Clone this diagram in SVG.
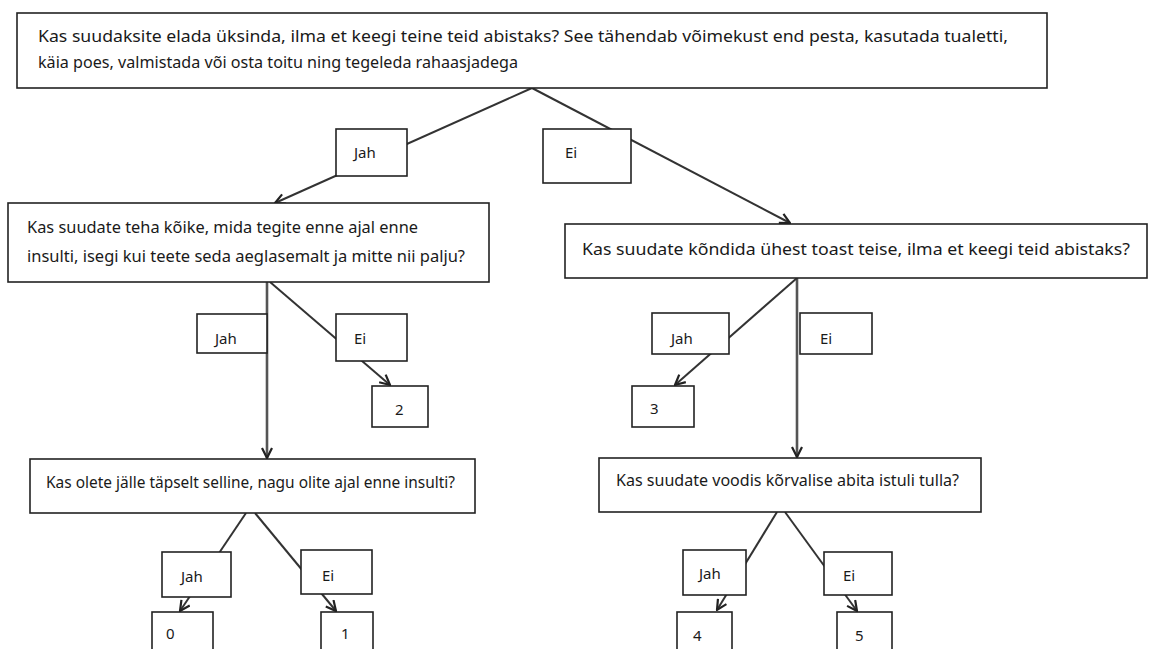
<svg xmlns="http://www.w3.org/2000/svg" width="1154" height="649" viewBox="0 0 1154 649">
  <style>
    .box { fill: #ffffff; stroke: #222222; stroke-width: 1.6; }
    .q { font-family: "Noto Sans", "Open Sans", sans-serif; font-size: 16px; fill: #1a1a1a; }
    .lbl { font-family: "Noto Sans", "Open Sans", sans-serif; font-size: 15px; fill: #1a1a1a; }
    .edge { fill: none; stroke: #333333; stroke-width: 2; marker-end: url(#arrow); }
    .stem { fill: none; stroke: #555555; stroke-width: 2.6; marker-end: url(#arrow); }
  </style>
  <defs>
    <marker id="arrow" viewBox="0 0 12 12" refX="11" refY="6" markerWidth="12" markerHeight="12" markerUnits="userSpaceOnUse" orient="auto">
      <path d="M1,1 L11,6 L1,11" fill="none" stroke="#222222" stroke-width="2.2"/>
    </marker>
  </defs>

  <rect x="0" y="0" width="1154" height="649" fill="#ffffff"/>

  <!-- connectors (drawn first so the label boxes sit on top of them) -->
  <g id="connectors">
    <path class="edge" d="M532,88 L275,203"/>
    <path class="edge" d="M532,88 L790,223"/>
    <path class="stem" d="M267,282 L267,458"/>
    <path class="edge" d="M270,282 L390,385"/>
    <path class="stem" d="M797,278 L797,457"/>
    <path class="edge" d="M797,278 L675,385"/>
    <path class="edge" d="M246,513 L180,611"/>
    <path class="edge" d="M255,513 L336,611"/>
    <path class="edge" d="M777,512 L717,610"/>
    <path class="edge" d="M785,512 L857,611"/>
  </g>

  <!-- question nodes -->
  <g id="q1">
    <rect class="box" x="17" y="13" width="1030" height="75"/>
    <text class="q" x="38" y="42" textLength="970" lengthAdjust="spacingAndGlyphs">Kas suudaksite elada üksinda, ilma et keegi teine teid abistaks? See tähendab võimekust end pesta, kasutada tualetti,</text>
    <text class="q" x="38" y="68" textLength="480" lengthAdjust="spacingAndGlyphs">käia poes, valmistada või osta toitu ning tegeleda rahaasjadega</text>
  </g>
  <g id="q2">
    <rect class="box" x="8" y="203" width="481" height="79"/>
    <text class="q" x="27" y="233" textLength="391" lengthAdjust="spacingAndGlyphs">Kas suudate teha kõike, mida tegite enne ajal enne</text>
    <text class="q" x="27" y="262" textLength="438" lengthAdjust="spacingAndGlyphs">insulti, isegi kui teete seda aeglasemalt ja mitte nii palju?</text>
  </g>
  <g id="q3">
    <rect class="box" x="565" y="224" width="582" height="54"/>
    <text class="q" x="582" y="255" textLength="548" lengthAdjust="spacingAndGlyphs">Kas suudate kõndida ühest toast teise, ilma et keegi teid abistaks?</text>
  </g>
  <g id="q4">
    <rect class="box" x="30" y="459" width="445" height="54"/>
    <text class="q" x="46" y="488" textLength="409" lengthAdjust="spacingAndGlyphs">Kas olete jälle täpselt selline, nagu olite ajal enne insulti?</text>
  </g>
  <g id="q5">
    <rect class="box" x="599" y="458" width="382" height="54"/>
    <text class="q" x="616" y="486" textLength="343" lengthAdjust="spacingAndGlyphs">Kas suudate voodis kõrvalise abita istuli tulla?</text>
  </g>

  <!-- answer labels -->
  <g id="jah1"><rect class="box" x="336" y="129" width="71" height="47"/><text class="lbl" x="354" y="158">Jah</text></g>
  <g id="ei1"><rect class="box" x="543" y="129" width="88" height="54"/><text class="lbl" x="565" y="158">Ei</text></g>
  <g id="jah2"><rect class="box" x="197" y="314" width="70" height="39"/><text class="lbl" x="215" y="344">Jah</text></g>
  <g id="ei2"><rect class="box" x="336" y="314" width="71" height="47"/><text class="lbl" x="354" y="344">Ei</text></g>
  <g id="jah3"><rect class="box" x="652" y="313" width="77" height="41"/><text class="lbl" x="671" y="344">Jah</text></g>
  <g id="ei3"><rect class="box" x="800" y="313" width="72" height="41"/><text class="lbl" x="820" y="344">Ei</text></g>
  <g id="jah4"><rect class="box" x="162" y="552" width="69" height="45"/><text class="lbl" x="181" y="582">Jah</text></g>
  <g id="ei4"><rect class="box" x="301" y="550" width="71" height="44"/><text class="lbl" x="322" y="581">Ei</text></g>
  <g id="jah5"><rect class="box" x="683" y="550" width="63" height="45"/><text class="lbl" x="699" y="579">Jah</text></g>
  <g id="ei5"><rect class="box" x="824" y="552" width="68" height="43"/><text class="lbl" x="843" y="581">Ei</text></g>

  <!-- score nodes -->
  <g id="s2"><rect class="box" x="372" y="386" width="56" height="41"/><text class="lbl" x="395" y="415">2</text></g>
  <g id="s3"><rect class="box" x="632" y="386" width="62" height="41"/><text class="lbl" x="650" y="414">3</text></g>
  <g id="s0"><rect class="box" x="152" y="612" width="61" height="50"/><text class="lbl" x="166" y="639">0</text></g>
  <g id="s1"><rect class="box" x="321" y="612" width="52" height="50"/><text class="lbl" x="341" y="639">1</text></g>
  <g id="s4"><rect class="box" x="677" y="612" width="55" height="50"/><text class="lbl" x="693" y="641">4</text></g>
  <g id="s5"><rect class="box" x="837" y="612" width="55" height="50"/><text class="lbl" x="855" y="641">5</text></g>
</svg>
